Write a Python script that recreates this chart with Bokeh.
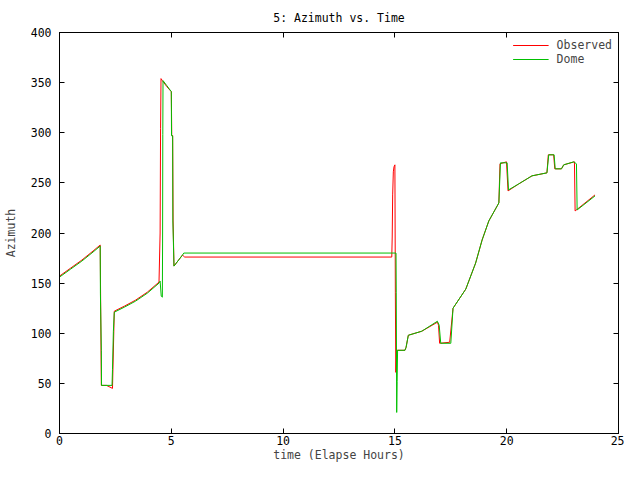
from bokeh.plotting import figure
from bokeh.models import Range1d, FixedTicker, LinearAxis, CustomJSTickFormatter, Legend, LegendItem
from bokeh.embed import file_html
from bokeh.resources import INLINE

title_text = "5: Azimuth vs. Time"
x_label = "time (Elapse Hours)"
y_label = "Azimuth"
x_ticks = [0, 5, 10, 15, 20, 25]
y_ticks = [0, 50, 100, 150, 200, 250, 300, 350, 400]

obs_t = [0, 0.5, 1.0, 1.5, 1.82, 1.87, 2.1, 2.37, 2.45, 2.9, 3.4, 3.93, 4.45,
         4.5, 4.52, 4.54, 4.6, 4.8, 5.0, 5.02, 5.06, 5.08, 5.12, 5.5, 5.6,
         14.86, 14.88, 14.9, 14.93, 14.96, 15.0, 15.02, 15.04, 15.08, 15.45,
         15.5, 15.6, 16.2, 16.9, 16.95, 17.0, 17.45, 17.6, 18.17, 18.61, 18.9,
         19.2, 19.65, 19.7, 19.99, 20.06, 20.54, 21.13, 21.8, 21.86, 22.1, 22.15,
         22.45, 22.55, 23.03, 23.06, 23.95]
obs_az = [157, 165, 173, 182, 188, 48, 48, 45, 122, 127, 133, 141, 151,
          200, 304, 354, 352, 346, 341, 298, 297, 212, 167, 178, 176,
          176, 196, 238, 261, 266, 268, 141, 61, 83, 83,
          86, 98, 102, 111, 108, 90, 91, 125, 144, 170, 193,
          212, 230, 269, 271, 242, 249, 257, 260, 278, 278, 264,
          264, 268, 271, 222, 238]

dome_t = [0, 0.5, 1.0, 1.5, 1.82, 1.83, 1.87, 1.88, 2.35, 2.37, 2.41, 2.45,
          2.9, 3.4, 3.93, 4.45, 4.5, 4.55, 4.6, 4.61, 4.62, 4.63, 4.8, 5.0,
          5.01, 5.06, 5.07, 5.12, 5.5, 5.56, 15.05, 15.06, 15.08, 15.1, 15.12,
          15.45, 15.5, 15.6, 16.2, 16.9, 16.98, 17.05, 17.5, 17.6, 18.17, 18.61,
          18.9, 19.2, 19.65, 19.72, 20.02, 20.08, 20.54, 21.13, 21.8, 21.88,
          22.12, 22.17, 22.45, 22.55, 23.0, 23.12, 23.15, 23.95]
dome_az = [156, 164, 172, 181, 187, 140, 83, 48, 48, 64, 102, 121,
           126, 132, 140, 150, 152, 137, 136, 190, 298, 352, 347, 341,
           297, 297, 212, 167, 178, 180, 180, 141, 21, 52, 83,
           83, 86, 98, 102, 112, 108, 90, 90, 125, 144, 170,
           193, 212, 230, 270, 270, 243, 249, 257, 260, 278,
           278, 264, 264, 268, 271, 269, 223, 237]

FONT = "DejaVu Sans Mono"
FS = "11.5px"

p = figure(width=624, height=464, title=title_text,
           x_range=Range1d(0, 25), y_range=Range1d(0, 400),
           output_backend="svg", toolbar_location=None,
           min_border_left=57, min_border_right=6, min_border_top=32, min_border_bottom=26)
p.background_fill_color = "white"
p.border_fill_color = "white"
p.outline_line_color = "black"
p.outline_line_width = 1
p.xgrid.visible = False
p.ygrid.visible = False

p.title.align = "center"
p.title.vertical_align = "middle"
p.title.text_font = FONT
p.title.text_font_size = FS
p.title.text_font_style = "normal"
p.title.text_color = "black"
p.title.offset = 0
p.title.standoff = 14

for ax, ticks in ((p.xaxis[0], x_ticks), (p.yaxis[0], y_ticks)):
    ax.ticker = FixedTicker(ticks=ticks)
    ax.major_tick_in = 5
    ax.major_tick_out = 0
    ax.minor_tick_line_color = None
    ax.major_label_text_font = FONT
    ax.major_label_text_font_size = FS
    ax.major_label_text_color = "black"
    ax.axis_label_text_font = FONT
    ax.axis_label_text_font_size = FS
    ax.axis_label_text_font_style = "normal"
    ax.axis_line_color = "black"
    ax.major_tick_line_color = "black"
p.xaxis.axis_label = x_label
p.yaxis.axis_label = y_label
p.xaxis.major_label_standoff = 2
p.yaxis.major_label_standoff = 8
p.xaxis.axis_label_standoff = 0
p.yaxis.axis_label_standoff = 10

empty = CustomJSTickFormatter(code="return ''")
for side, ticks in (("right", y_ticks), ("above", x_ticks)):
    ax = LinearAxis(ticker=FixedTicker(ticks=ticks), formatter=empty)
    ax.major_tick_in = 5
    ax.major_tick_out = 0
    ax.minor_tick_line_color = None
    ax.major_label_standoff = 0
    ax.major_label_text_font_size = "1px"
    ax.axis_line_color = "black"
    p.add_layout(ax, side)

r_obs = p.line(obs_t, obs_az, line_color="#ff0000", line_width=1)
r_dome = p.line(dome_t, dome_az, line_color="#00c000", line_width=1)

legend = Legend(items=[LegendItem(label="Observed", renderers=[r_obs]),
                       LegendItem(label="Dome", renderers=[r_dome])],
                location="top_right")
legend.background_fill_alpha = 0
legend.border_line_color = None
legend.label_text_font = FONT
legend.label_text_font_size = FS
legend.label_standoff = 8
legend.glyph_width = 36
legend.glyph_height = 8
legend.label_height = 8
legend.spacing = -6
legend.padding = 2
legend.margin = 6
p.add_layout(legend)

open("out.html", "w").write(file_html(p, INLINE))
